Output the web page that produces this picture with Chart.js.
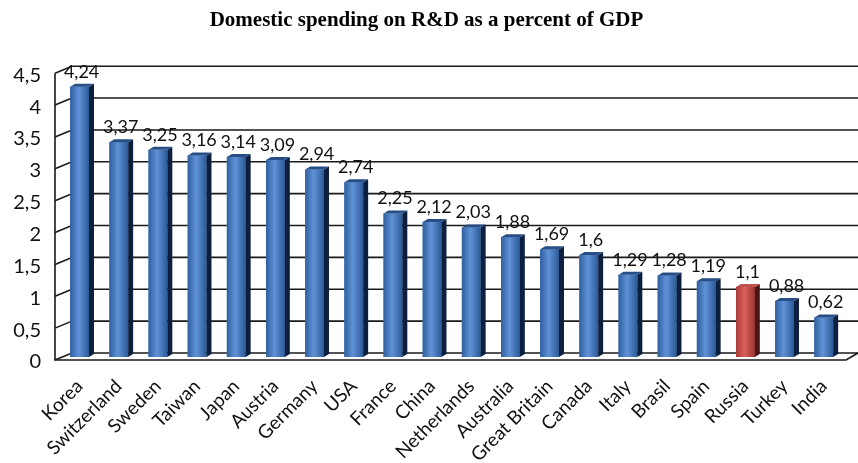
<!DOCTYPE html>
<html>
<head>
<meta charset="utf-8">
<script src="https://cdn.jsdelivr.net/npm/chart.js@4.4.0/dist/chart.umd.min.js"></script>
<style>
  html, body { margin: 0; padding: 0; background: #ffffff; }
  #wrap { width: 858px; height: 463px; position: relative; }
</style>
</head>
<body>
<div id="wrap"><canvas id="c" width="858" height="463"></canvas></div>
<script>
const categories = ["Korea","Switzerland","Sweden","Taiwan","Japan","Austria","Germany","USA","France","China","Netherlands","Australia","Great Britain","Canada","Italy","Brasil","Spain","Russia","Turkey","India"];
const values = [4.24,3.37,3.25,3.16,3.14,3.09,2.94,2.74,2.25,2.12,2.03,1.88,1.69,1.6,1.29,1.28,1.19,1.1,0.88,0.62];
const highlight = ["Russia"];
const yTicks = [0,0.5,1,1.5,2,2.5,3,3.5,4,4.5];

const fmt = v => String(v).replace('.', ',');
const FONT = "Lato, 'Open Sans', sans-serif";

const framePlugin = {
  id: 'frame3d',
  beforeDatasetsDraw(chart) {
    const ctx = chart.ctx, y = chart.scales.y;
    const fx = 55, bx = 72, right = 858, fFront = 3, fBack = -4;
    ctx.save();
    ctx.strokeStyle = '#1a1a1a';
    ctx.lineWidth = 1.6;
    yTicks.forEach(v => {
      const p = y.getPixelForValue(v);
      ctx.beginPath();
      ctx.moveTo(bx, p + fBack); ctx.lineTo(right, p + fBack);
      ctx.moveTo(fx, p + fFront); ctx.lineTo(bx, p + fBack);
      ctx.stroke();
    });
    const top = y.getPixelForValue(yTicks[yTicks.length-1]);
    const zero = y.getPixelForValue(0);
    ctx.beginPath();
    ctx.moveTo(fx, top + fFront); ctx.lineTo(fx, zero + fFront);
    ctx.lineTo(846, zero + fFront); ctx.lineTo(right, zero + fBack);
    ctx.stroke();
    ctx.restore();
  },
  afterDatasetsDraw(chart) {
    const ctx = chart.ctx;
    const meta = chart.getDatasetMeta(0);
    ctx.save();
    meta.data.forEach((el, i) => {
      const red = highlight.includes(categories[i]);
      const w = el.width, l = el.x - w/2, r = el.x + w/2, t = el.y, b = el.base;
      const g = ctx.createLinearGradient(l, 0, r, 0);
      if (red) {
        g.addColorStop(0, '#a83a37'); g.addColorStop(0.45, '#d9605c'); g.addColorStop(1, '#9e3431');
      } else {
        g.addColorStop(0, '#2f5f9f'); g.addColorStop(0.45, '#5f92d6'); g.addColorStop(1, '#2c5a98');
      }
      ctx.fillStyle = g;
      ctx.fillRect(l, t, w, b - t);
      const d = 5, dy = 3;
      ctx.fillStyle = red ? '#4a1514' : '#0d1f3f';
      ctx.beginPath();
      ctx.moveTo(r, t); ctx.lineTo(r + d, t - dy); ctx.lineTo(r + d, b - dy); ctx.lineTo(r, b);
      ctx.closePath(); ctx.fill();
      ctx.fillStyle = red ? '#c0504d' : '#274e86';
      ctx.beginPath();
      ctx.moveTo(l, t); ctx.lineTo(l + d, t - dy); ctx.lineTo(r + d, t - dy); ctx.lineTo(r, t);
      ctx.closePath(); ctx.fill();
      ctx.fillStyle = '#111';
      ctx.font = "18px " + FONT;
      ctx.textAlign = 'center';
      ctx.textBaseline = 'bottom';
      ctx.fillText(fmt(values[i]), el.x + 2, t - 6);
    });
    ctx.restore();
  }
};

new Chart(document.getElementById('c'), {
  type: 'bar',
  data: {
    labels: categories,
    datasets: [{
      data: values,
      backgroundColor: categories.map(c => highlight.includes(c) ? '#c0504d' : '#4f81bd'),
      borderWidth: 0,
      barPercentage: 0.48,
      categoryPercentage: 1
    }]
  },
  options: {
    responsive: false,
    animation: false,
    devicePixelRatio: 1,
    layout: { padding: { left: 0, right: 5, top: 0, bottom: 0 } },
    plugins: {
      legend: { display: false },
      tooltip: { enabled: false },
      title: {
        display: true,
        text: 'Domestic spending on R&D as a percent of GDP',
        color: '#000',
        font: { family: "'Liberation Serif', serif", size: 21, weight: 'bold' },
        padding: { top: 8, bottom: 37 }
      }
    },
    scales: {
      y: {
        min: 0, max: 4.5,
        afterFit: s => { s.width = 60; },
        grid: { display: false, drawTicks: false },
        border: { display: false },
        ticks: {
          stepSize: 0.5,
          padding: 19,
          labelOffset: 5,
          color: '#111',
          font: { family: FONT, size: 20 },
          callback: v => fmt(v)
        }
      },
      x: {
        afterFit: s => { s.height = 106; },
        grid: { display: false, drawTicks: false },
        border: { display: false },
        ticks: {
          maxRotation: 45, minRotation: 45,
          autoSkip: false,
          padding: 18,
          color: '#111',
          font: { family: FONT, size: 19 }
        }
      }
    }
  },
  plugins: [framePlugin]
});
</script>
</body>
</html>
